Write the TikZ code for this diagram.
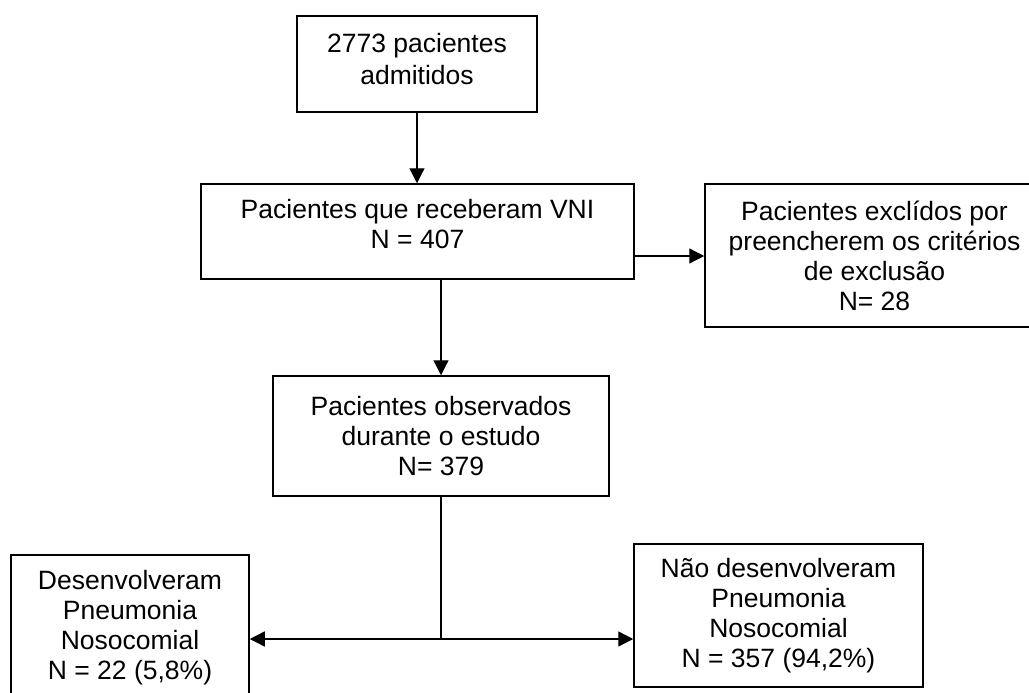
\documentclass[tikz,border=0pt]{standalone}
\usepackage{fontspec}
\setmainfont{Liberation Sans}
\usetikzlibrary{arrows.meta}

\begin{document}
\begin{tikzpicture}[x=1pt, y=-1pt,
                    every node/.style={font=\fontsize{26.5pt}{30pt}\selectfont},
                    caixa/.style={draw, line width=1.5pt, align=center, inner sep=0pt},
                    lift/.style={execute at end node={\rule[-#1]{0pt}{#1}}},
                    seta/.style={line width=1.3pt, -{Triangle[length=15pt, width=15pt]}}]
                    \clip (0,0) rectangle (1029,693);
                    
                    % Boxes
                    \node[caixa, lift=10pt, minimum width=240pt, minimum height=96pt] (admit) at (417,64) {2773 pacientes\\[2pt]admitidos};
                    \node[caixa, lift=15pt, minimum width=433pt, minimum height=95pt] (vni) at (417.5,231.5) {Pacientes que receberam VNI\\N = 407};
                    \node[caixa, minimum width=339pt, minimum height=143pt] (exclu) at (874.5,255.5) {Pacientes exclídos por\\preencherem os critérios\\de exclusão\\N= 28};
                    \node[caixa, minimum width=336pt, minimum height=120pt] (obs) at (441,436) {Pacientes observados\\durante o estudo\\N= 379};
                    \node[caixa, minimum width=238pt, minimum height=146pt] (pnm) at (130,628) {Desenvolveram\\Pneumonia\\Nosocomial\\N = 22 (5,8\%)};
                    \node[caixa, minimum width=289pt, minimum height=143pt] (nopnm) at (778.5,615.5) {Não desenvolveram\\Pneumonia\\Nosocomial\\N = 357 (94,2\%)};
                    
                    % Arrows
                    \draw[seta] (admit.south) -- (admit.south |- vni.north);
                    \draw[seta] ([yshift=-24.5pt]vni.east) -- ([yshift=-24.5pt]vni.east -| exclu.west);
                    \draw[seta] (obs.north |- vni.south) -- (obs.north);
                    
                    % Split
                    \coordinate (split) at (obs.south |- 0,639);
                    \draw[line width=1.3pt] (obs.south) -- (split);
                    \draw[seta] (split) -- (split -| pnm.east);
                    \draw[seta] (split) -- (split -| nopnm.west);
                \end{tikzpicture}
\end{document}
